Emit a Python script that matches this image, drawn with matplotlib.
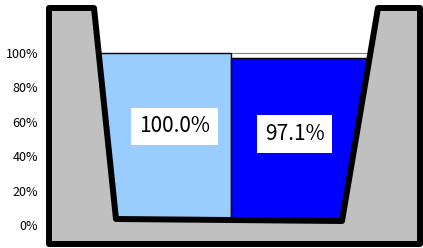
import matplotlib
matplotlib.use('Agg')
import matplotlib.pyplot as plt
from matplotlib.patches import Polygon

plt.rcParams['font.family'] = ['Noto Sans CJK JP', 'DejaVu Sans']

# data
labels = ['100.0%', '97.1%']
values = [100.0, 97.1]
colors = ['#99CCFF', '#0000FF']
yticks = [0, 20, 40, 60, 80, 100]

W, H = 423, 248
fig = plt.figure(figsize=(W / 100, H / 100), dpi=100)
ax = fig.add_axes([47 / W, 0, 1 - 47 / W, 1])
ax.set_xlim(-0.769, 1.824)
ax.set_ylim(-13.37, 130.8)

x = list(range(len(values)))
# empty part up to 100%
ax.bar(x, [100 - v for v in values], bottom=values, width=1.0,
       color='white', edgecolor='#808080', linewidth=0.8, zorder=1)
ax.bar(x, values, width=1.0, color=colors, edgecolor='black',
       linewidth=1.0, zorder=2)

# container shape (pixel coords of the picture)
shape = [(49, 8), (94, 8), (116, 219), (342, 221), (378, 8),
         (420, 8), (420, 244), (49, 244)]
shape = [(px / W, 1 - py / H) for px, py in shape]
ax.add_patch(Polygon(shape, closed=True, facecolor='#C0C0C0',
                     edgecolor='black', linewidth=4.3, joinstyle='round',
                     transform=fig.transFigure, clip_on=False, zorder=3))

# value labels
offs = [(0.11, 57.3), (-0.062, 52.9)]
for i, lab in enumerate(labels):
    ax.text(x[i] + offs[i][0], offs[i][1], lab, ha='center', va='center',
            fontsize=15, zorder=4,
            bbox=dict(facecolor='white', edgecolor='none', boxstyle='square,pad=0.38'))

ax.set_yticks(yticks)
ax.set_yticklabels([f'{t}%' for t in yticks], fontsize=9)
ax.tick_params(axis='y', length=0, pad=6.5)
ax.set_xticks([])
for s in ax.spines.values():
    s.set_visible(False)

fig.savefig('out.png', dpi=100)
